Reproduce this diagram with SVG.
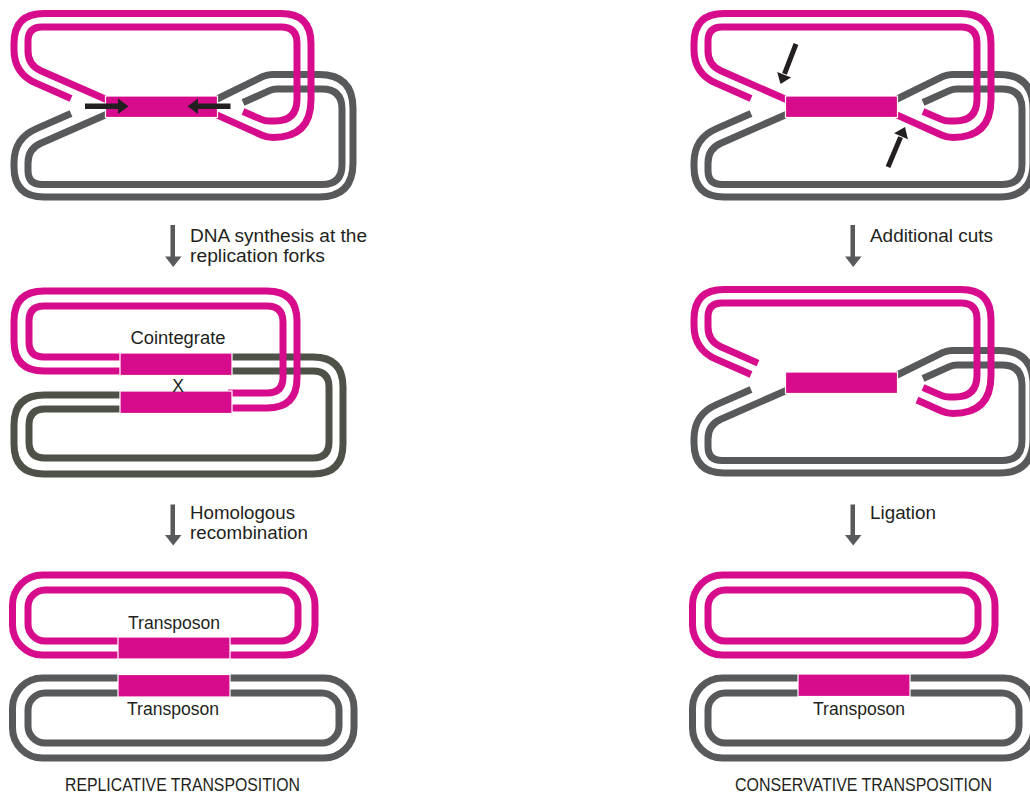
<svg xmlns="http://www.w3.org/2000/svg" width="1030" height="794" viewBox="0 0 1030 794">
<style>
.m{fill:none;stroke:#d70c8c;stroke-width:7}
.g{fill:none;stroke:#58595b;stroke-width:7}
.g2{fill:none;stroke:#4d5148;stroke-width:7}
.blk{fill:#d70c8c;stroke:#fff;stroke-width:1.2}
.t{font-family:"Liberation Sans",Arial,sans-serif;font-size:17.5px;fill:#231f20}
.c{text-anchor:middle}
.ar{fill:#231f20}
.arl{stroke:#231f20;stroke-width:5}
.step{fill:#58595b}
</style>
<defs>
<path id="gout" d="M215,100 L262.5,76.7 Q267,74.5 272,74.5 L319,74.5 Q353,74.5 353,108.5 L353,163 Q353,197 319,197 L44,197 Q14,197 14,167 L14,162.6 Q14,138.6 36,128.9 L71,113.5"/>
<path id="gin" d="M108,113.7 L40.8,143.3 Q28,148.9 28,162.9 L28,170.5 Q28,184.5 42,184.5 L322,184.5 Q342,184.5 342,164.5 L342,109 Q342,89 322,89 L277,89 Q273,89 269.4,90.6 L243,102.5"/>
</defs>
<rect width="1030" height="794" fill="#fff"/>

<g id="replicative-step1">
<use href="#gout" class="g"/>
<use href="#gin" class="g"/>
<path class="m" d="M108,100.3 L40.8,70.7 Q28,65.1 28,51.1 L28,41 Q28,27 42,27 L281,27 Q297,27 297,43 L297,99 Q297,121 275,121 L269,121 Q265,121 261.3,119.4 L243,111.5"/>
<path class="m" d="M71,98.5 L36,83.1 Q14,73.4 14,49.4 L14,43.5 Q14,13.5 44,13.5 L281,13.5 Q311,13.5 311,43.5 L311,99.5 Q311,137.5 273,137.5 Q267,137.5 261.5,135 L215,114.1"/>
<rect class="blk" x="105.5" y="96" width="112" height="21.5"/>
<rect class="ar" x="85" y="103.5" width="34" height="5.5"/>
<polygon class="ar" points="118,98.5 128.5,106.25 118,114"/>
<rect class="ar" x="197" y="103.5" width="33.5" height="5.5"/>
<polygon class="ar" points="198,98.5 187.5,106.25 198,114"/>
</g>

<g id="conservative-step1" transform="translate(680,0)">
<use href="#gout" class="g"/>
<use href="#gin" class="g"/>
<path class="m" d="M108,100.3 L40.8,70.7 Q28,65.1 28,51.1 L28,41 Q28,27 42,27 L281,27 Q297,27 297,43 L297,99 Q297,121 275,121 L269,121 Q265,121 261.3,119.4 L243,111.5"/>
<path class="m" d="M71,98.5 L36,83.1 Q14,73.4 14,49.4 L14,43.5 Q14,13.5 44,13.5 L281,13.5 Q311,13.5 311,43.5 L311,99.5 Q311,137.5 273,137.5 Q267,137.5 261.5,135 L215,114.1"/>
<rect class="blk" x="105.5" y="96" width="112" height="21.5"/>
<line class="arl" x1="116" y1="44" x2="104.5" y2="73.8"/>
<polygon class="ar" points="111.1,77.4 100.5,84 97.2,72"/>
<line class="arl" x1="208" y1="167" x2="220.6" y2="137.1"/>
<polygon class="ar" points="227.9,139.2 225,127 214.1,133.2"/>
</g>

<g id="cointegrate">
<path class="g2" d="M232,357 L313,357 Q343,357 343,387 L343,444 Q343,474 313,474 L44,474 Q14,474 14,444 L14,425 Q14,395 44,395 L124,395"/>
<path class="g2" d="M232,371 L313,371 Q329,371 329,387 L329,442 Q329,458 313,458 L45,458 Q29,458 29,442 L29,425 Q29,409 45,409 L124,409"/>
<path class="m" d="M124,371 L44,371 Q14,371 14,341 L14,321 Q14,291 44,291 L267,291 Q297,291 297,321 L297,378 Q297,408 267,408 L228,408"/>
<path class="m" d="M124,357 L44,357 Q29,357 29,342 L29,321 Q29,306 44,306 L267,306 Q283,306 283,322 L283,377 Q283,393 267,393 L228,393"/>
<rect class="blk" x="120" y="353" width="112" height="22.5"/>
<rect class="blk" x="120" y="391" width="112" height="22.5"/>
<text class="t c" x="178" y="343.5" textLength="95" lengthAdjust="spacingAndGlyphs">Cointegrate</text>
<text class="t c" x="178" y="391.5">X</text>
</g>

<g id="conservative-step2" transform="translate(680,276)">
<use href="#gout" class="g"/>
<use href="#gin" class="g"/>
<path class="m" d="M78,87.1 L40.8,70.7 Q28,65.1 28,51.1 L28,41 Q28,27 42,27 L281,27 Q297,27 297,43 L297,99 Q297,121 275,121 L269,121 Q265,121 261.3,119.4 L243,111.5"/>
<path class="m" d="M71,98.5 L36,83.1 Q14,73.4 14,49.4 L14,43.5 Q14,13.5 44,13.5 L281,13.5 Q311,13.5 311,43.5 L311,99.5 Q311,137.5 273,137.5 Q267,137.5 261.5,135 L237,124"/>
<rect class="blk" x="105.5" y="96" width="112" height="21.5"/>
</g>

<g id="replicative-products">
<rect class="m" x="12.5" y="575" width="302.5" height="80" rx="30"/>
<rect class="m" x="28" y="590" width="270" height="51" rx="17"/>
<rect class="g" x="12.5" y="678" width="341.5" height="80" rx="30"/>
<rect class="g" x="28" y="693" width="311" height="50" rx="17"/>
<rect class="blk" x="118" y="637" width="112" height="22"/>
<rect class="blk" x="118" y="674.5" width="112" height="22.5"/>
<text class="t c" x="174" y="628.5" textLength="92" lengthAdjust="spacingAndGlyphs">Transposon</text>
<text class="t c" x="173" y="714.5" textLength="92" lengthAdjust="spacingAndGlyphs">Transposon</text>
</g>

<g id="conservative-products">
<rect class="m" x="692.5" y="575" width="302.5" height="80" rx="30"/>
<rect class="m" x="708" y="590" width="270" height="51" rx="17"/>
<rect class="g" x="692.5" y="678" width="341.5" height="80" rx="30"/>
<rect class="g" x="708" y="693" width="311" height="50" rx="17"/>
<rect class="blk" x="798" y="674" width="112" height="22.5"/>
<text class="t c" x="859" y="715" textLength="92" lengthAdjust="spacingAndGlyphs">Transposon</text>
</g>

<g id="connectors">
<rect class="step" x="170.5" y="225" width="4.5" height="32"/>
<polygon class="step" points="165,256.5 181.5,256.5 173.25,267"/>
<rect class="step" x="170.5" y="504.5" width="4.5" height="31"/>
<polygon class="step" points="165,535 181.5,535 173.25,545.5"/>
<rect class="step" x="850.5" y="225" width="4.5" height="32"/>
<polygon class="step" points="845,256.5 861.5,256.5 853.25,267"/>
<rect class="step" x="850.5" y="504.5" width="4.5" height="31"/>
<polygon class="step" points="845,535 861.5,535 853.25,545.5"/>
</g>

<g id="labels">
<text class="t" x="190" y="241.5" textLength="177" lengthAdjust="spacingAndGlyphs">DNA synthesis at the</text>
<text class="t" x="190" y="261.5" textLength="135" lengthAdjust="spacingAndGlyphs">replication forks</text>
<text class="t" x="190" y="518.5" textLength="105" lengthAdjust="spacingAndGlyphs">Homologous</text>
<text class="t" x="190" y="538.5" textLength="118" lengthAdjust="spacingAndGlyphs">recombination</text>
<text class="t" x="870" y="241.5" textLength="123" lengthAdjust="spacingAndGlyphs">Additional cuts</text>
<text class="t" x="870" y="518.5" textLength="66" lengthAdjust="spacingAndGlyphs">Ligation</text>
<text class="t c" x="182.5" y="791" textLength="235" lengthAdjust="spacingAndGlyphs">REPLICATIVE TRANSPOSITION</text>
<text class="t c" x="863.5" y="791" textLength="257" lengthAdjust="spacingAndGlyphs">CONSERVATIVE TRANSPOSITION</text>
</g>
</svg>
